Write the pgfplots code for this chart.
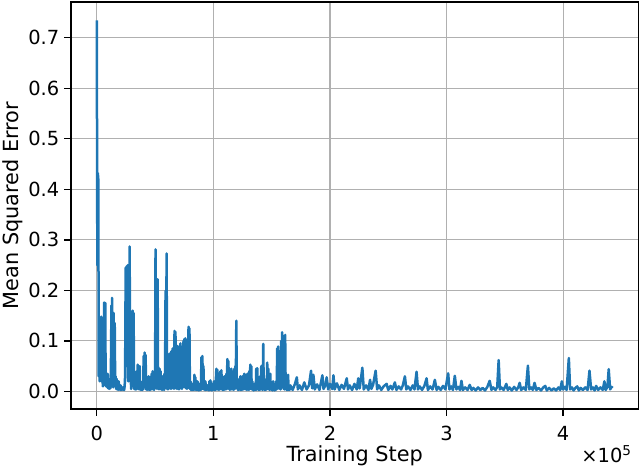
\documentclass[border=0pt]{standalone}
\usepackage{fontspec}
\setmainfont{DejaVu Sans}
\usepackage{pgfplots}
\usepackage{pgfplotstable}
\pgfplotsset{compat=1.18}
\definecolor{mplblue}{HTML}{1F77B4}
\definecolor{mplgrid}{HTML}{B0B0B0}

% training step in thousands, mean squared error
\pgfplotstableread{
k mse
0.0 0.734
0.5 0.25
0.9 0.432
1.3 0.42
1.7 0.03
2.1 0.05
2.5 0.02
3.0 0.03
3.4 0.025
3.8 0.148
4.1 0.02
4.4 0.03
4.7 0.145
5.0 0.02
5.3 0.01
5.6 0.03
6.0 0.012
6.4 0.176
6.8 0.03
7.3 0.175
7.6 0.02
8.0 0.01
8.6 0.03
9.0 0.008
9.4 0.035
9.8 0.006
10.3 0.025
10.7 0.005
11.1 0.015
11.6 0.006
12.0 0.01
12.6 0.17
12.9 0.03
13.1 0.185
13.4 0.02
13.7 0.04
14.1 0.008
14.5 0.155
14.9 0.04
15.4 0.135
15.8 0.01
16.2 0.03
16.6 0.005
17.1 0.025
17.5 0.004
18.0 0.012
18.4 0.003
18.8 0.02
19.2 0.004
19.7 0.008
20.1 0.003
20.5 0.012
21.0 0.003
21.4 0.006
22.2 0.008
22.6 0.003
23.1 0.005
23.5 0.003
23.9 0.01
24.3 0.03
24.8 0.245
25.2 0.05
25.7 0.248
26.1 0.06
26.5 0.25
27.0 0.02
27.4 0.04
27.8 0.05
28.2 0.287
28.6 0.02
29.1 0.03
29.5 0.005
29.9 0.025
30.4 0.01
30.8 0.16
31.2 0.03
31.6 0.155
32.0 0.005
32.5 0.02
32.9 0.004
33.3 0.01
33.7 0.004
34.2 0.04
34.6 0.005
35.1 0.053
35.5 0.006
35.9 0.012
36.3 0.004
36.8 0.05
37.2 0.005
37.6 0.01
38.0 0.003
38.5 0.006
39.0 0.003
39.3 0.02
39.8 0.004
40.2 0.07
40.6 0.01
41.0 0.077
41.4 0.008
41.9 0.072
42.3 0.004
42.8 0.015
43.2 0.003
43.6 0.01
44.0 0.004
44.5 0.03
44.9 0.003
45.3 0.008
45.8 0.003
46.2 0.015
46.6 0.004
47.0 0.035
47.4 0.005
47.9 0.04
48.3 0.004
48.7 0.008
49.1 0.003
49.6 0.03
50.0 0.006
50.4 0.281
50.8 0.01
51.3 0.03
51.7 0.005
52.2 0.222
52.6 0.006
53.0 0.02
53.4 0.004
53.9 0.045
54.3 0.006
54.7 0.04
55.1 0.004
55.6 0.015
56.0 0.003
56.4 0.03
56.8 0.004
57.3 0.01
57.7 0.003
58.1 0.035
58.5 0.006
59.0 0.199
59.4 0.02
59.9 0.273
60.3 0.005
60.7 0.02
61.1 0.004
61.6 0.07
62.0 0.008
62.4 0.075
62.8 0.006
63.3 0.03
63.7 0.005
64.1 0.08
64.5 0.006
65.0 0.085
65.4 0.008
65.8 0.04
66.2 0.005
66.7 0.12
67.1 0.01
67.5 0.118
67.9 0.006
68.4 0.05
68.8 0.005
69.3 0.09
69.7 0.006
70.1 0.02
70.5 0.004
71.0 0.065
71.4 0.008
71.8 0.095
72.2 0.006
72.7 0.03
73.1 0.005
73.5 0.07
73.9 0.008
74.4 0.1
74.8 0.01
75.2 0.104
75.6 0.008
76.1 0.105
76.5 0.006
77.0 0.035
77.4 0.005
77.8 0.09
78.2 0.01
78.7 0.128
79.1 0.012
79.5 0.125
79.9 0.005
80.4 0.02
80.8 0.003
81.2 0.012
81.6 0.003
82.1 0.015
82.5 0.003
82.9 0.005
83.3 0.003
83.8 0.033
84.2 0.004
84.6 0.028
85.0 0.003
85.5 0.01
85.9 0.003
86.4 0.02
86.8 0.003
87.2 0.006
87.6 0.002
88.1 0.015
88.5 0.003
88.9 0.005
89.3 0.003
89.8 0.068
90.2 0.006
90.6 0.07
91.0 0.005
91.5 0.05
91.9 0.004
92.3 0.01
92.7 0.003
93.2 0.02
93.6 0.003
94.1 0.004
94.9 0.012
95.3 0.003
95.8 0.006
96.2 0.002
96.6 0.02
97.0 0.003
97.5 0.022
97.9 0.003
98.3 0.008
98.7 0.002
99.2 0.015
99.6 0.003
100.0 0.005
100.5 0.02
100.9 0.003
101.3 0.01
101.7 0.003
102.6 0.045
103.0 0.004
103.5 0.043
103.9 0.004
104.3 0.008
104.7 0.003
105.2 0.02
105.6 0.004
106.0 0.04
106.4 0.005
106.9 0.042
107.3 0.004
107.7 0.015
108.1 0.003
108.6 0.005
109.0 0.003
109.4 0.03
109.8 0.004
110.3 0.02
110.7 0.004
111.2 0.035
111.6 0.005
112.0 0.064
112.4 0.006
112.9 0.06
113.3 0.005
113.7 0.015
114.1 0.003
114.6 0.04
115.0 0.005
115.4 0.045
115.8 0.004
116.3 0.04
116.7 0.004
117.1 0.01
117.5 0.003
118.0 0.045
118.4 0.005
118.8 0.05
119.2 0.006
119.7 0.14
120.1 0.008
120.6 0.02
121.0 0.003
121.4 0.01
121.8 0.003
122.3 0.025
122.7 0.004
123.1 0.03
123.5 0.003
124.0 0.005
124.4 0.003
124.8 0.03
125.2 0.004
125.7 0.028
126.1 0.004
126.5 0.035
126.9 0.005
127.4 0.033
127.8 0.004
128.3 0.01
128.7 0.003
129.1 0.035
129.5 0.004
130.0 0.02
130.4 0.003
130.8 0.04
131.2 0.005
131.7 0.053
132.1 0.005
132.5 0.05
132.9 0.004
133.4 0.02
133.8 0.003
134.2 0.008
134.6 0.002
135.1 0.015
135.5 0.003
135.9 0.004
136.4 0.003
136.8 0.045
137.2 0.004
137.7 0.046
138.1 0.004
138.5 0.02
138.9 0.003
139.4 0.01
139.8 0.003
140.2 0.03
140.6 0.004
141.1 0.05
141.5 0.004
141.9 0.02
142.3 0.003
142.8 0.094
143.2 0.005
143.6 0.015
144.0 0.003
144.5 0.01
144.9 0.003
145.4 0.025
145.8 0.004
146.2 0.057
146.6 0.005
147.1 0.045
147.5 0.004
147.9 0.03
148.3 0.003
148.8 0.035
149.2 0.004
149.6 0.015
150.0 0.003
150.5 0.008
150.9 0.002
151.3 0.02
151.7 0.003
152.2 0.005
152.6 0.002
153.0 0.015
153.4 0.003
153.9 0.02
154.3 0.004
154.8 0.085
155.2 0.006
155.6 0.089
156.0 0.006
156.5 0.08
156.9 0.005
157.3 0.03
157.7 0.004
158.2 0.1
158.6 0.008
159.0 0.117
159.4 0.008
159.9 0.11
160.3 0.005
160.7 0.04
161.1 0.004
161.6 0.112
162.0 0.005
162.5 0.03
162.9 0.003
163.3 0.02
163.7 0.003
164.1 0.033
164.5 0.003
165.0 0.01
165.4 0.003
166 0.012
168 0.003
170 0.015
171.6 0.028
172.5 0.004
174 0.012
176 0.003
178 0.018
180 0.004
182 0.012
183.8 0.041
184.8 0.006
185.8 0.033
187 0.004
189 0.014
191 0.003
193.5 0.032
194.5 0.005
196 0.012
197.2 0.028
198.5 0.004
200 0.015
202 0.005
203 0.032
204 0.004
206 0.016
208 0.003
210 0.013
212 0.005
214.4 0.026
215.5 0.004
217 0.012
219 0.003
221 0.015
223 0.004
224.3 0.026
225.5 0.006
227.8 0.047
229 0.004
231 0.012
233 0.003
234.4 0.023
235.5 0.005
237 0.013
239.2 0.041
240.5 0.004
242 0.012
244 0.003
246 0.01
248.6 0.015
250 0.003
252 0.011
253.5 0.004
255.7 0.018
257 0.003
259 0.01
261 0.004
262.5 0.012
264.3 0.03
265.5 0.004
267 0.01
269 0.003
271 0.012
272.5 0.004
274.3 0.039
275.5 0.004
277 0.01
279 0.003
281 0.011
282.9 0.026
284 0.003
286 0.01
288 0.004
290 0.023
291.5 0.003
293 0.009
295 0.003
297 0.011
299 0.004
301.4 0.036
302.5 0.004
304 0.01
305.5 0.003
307.1 0.031
308.5 0.004
310 0.009
311.5 0.003
312.8 0.021
314 0.003
316 0.008
318 0.003
319.9 0.013
321.5 0.003
323 0.007
325 0.002
327 0.008
329 0.003
331 0.007
333 0.002
335 0.009
337 0.021
338.5 0.003
340 0.008
342 0.003
343.5 0.009
344.7 0.062
345.8 0.004
347 0.008
349 0.003
351.3 0.015
352.5 0.003
354 0.008
356 0.002
358 0.009
360 0.003
361.5 0.008
362.7 0.017
364 0.003
366 0.008
368 0.003
369.8 0.051
371 0.004
372.5 0.008
374 0.003
375.5 0.017
377 0.003
379 0.007
381 0.002
383 0.008
384.7 0.011
386 0.002
388 0.007
390 0.002
392 0.006
394 0.002
396 0.008
397.5 0.003
398.9 0.02
400 0.004
401.5 0.009
403 0.003
404.9 0.066
406 0.004
407.5 0.008
409 0.002
410.5 0.007
412.1 0.01
413.5 0.002
415 0.007
417 0.003
419 0.008
421 0.003
422.6 0.041
424 0.004
425.5 0.008
427 0.002
428.3 0.011
430 0.003
432 0.008
434 0.003
435.4 0.02
436.5 0.003
438 0.009
439.1 0.044
440.3 0.004
441.5 0.009
442.5 0.007
}\msedata

\newcommand\tickfont{\fontsize{14}{16.8}\selectfont}
\newcommand\labelfont{\fontsize{15}{18}\selectfont}

\begin{document}
\begin{tikzpicture}
\begin{axis}[
    name=ax,
    width=408.6pt, height=293pt, scale only axis,
    xmin=-22125, xmax=464625,
    ymin=-0.0346, ymax=0.7706,
    xtick={0,100000,200000,300000,400000},
    ytick={0,0.1,0.2,0.3,0.4,0.5,0.6,0.7},
    scaled x ticks=base 10:-5,
    xtick scale label code/.code={},
    /pgf/number format/assume math mode=true,
    tick align=outside, xtick pos=left, ytick pos=left,
    major tick length=5pt,
    tick style={black, line width=1pt},
    axis line style={black, line width=1pt},
    grid=major,
    major grid style={mplgrid, line width=0.8pt},
    xticklabel style={font=\tickfont, anchor=base, inner sep=0pt, yshift=-17.9pt},
    yticklabel style={font=\tickfont, anchor=east, inner sep=0pt, xshift=-3.2pt,
        /pgf/number format/fixed, /pgf/number format/fixed zerofill,
        /pgf/number format/precision=1},
    xlabel={Training Step},
    ylabel={Mean Squared Error},
    every axis x label/.style={at={(rel axis cs:0.5,0)}, anchor=base,
        yshift=-38.2pt, inner sep=0pt, font=\labelfont},
    every axis y label/.style={at={(rel axis cs:0,0.5)}, xshift=-49.7pt,
        rotate=90, anchor=north, inner sep=0pt, font=\labelfont},
]
\addplot[mplblue, line width=1.8pt, line join=round, no markers]
    table[x expr=\thisrow{k}*1000, y=mse] {\msedata};
\end{axis}
% offset text of the x axis, as matplotlib puts it
\node[anchor=base east, inner sep=0pt, font=\tickfont]
    at ([xshift=-4.6pt, yshift=-38.7pt]ax.south east) {×10\textsuperscript{5}};
\pgfresetboundingbox
\useasboundingbox ([xshift=-51.1pt,yshift=-41pt]ax.south west)
    rectangle ([xshift=1.1pt,yshift=1.44pt]ax.north east);
\end{tikzpicture}
\end{document}
